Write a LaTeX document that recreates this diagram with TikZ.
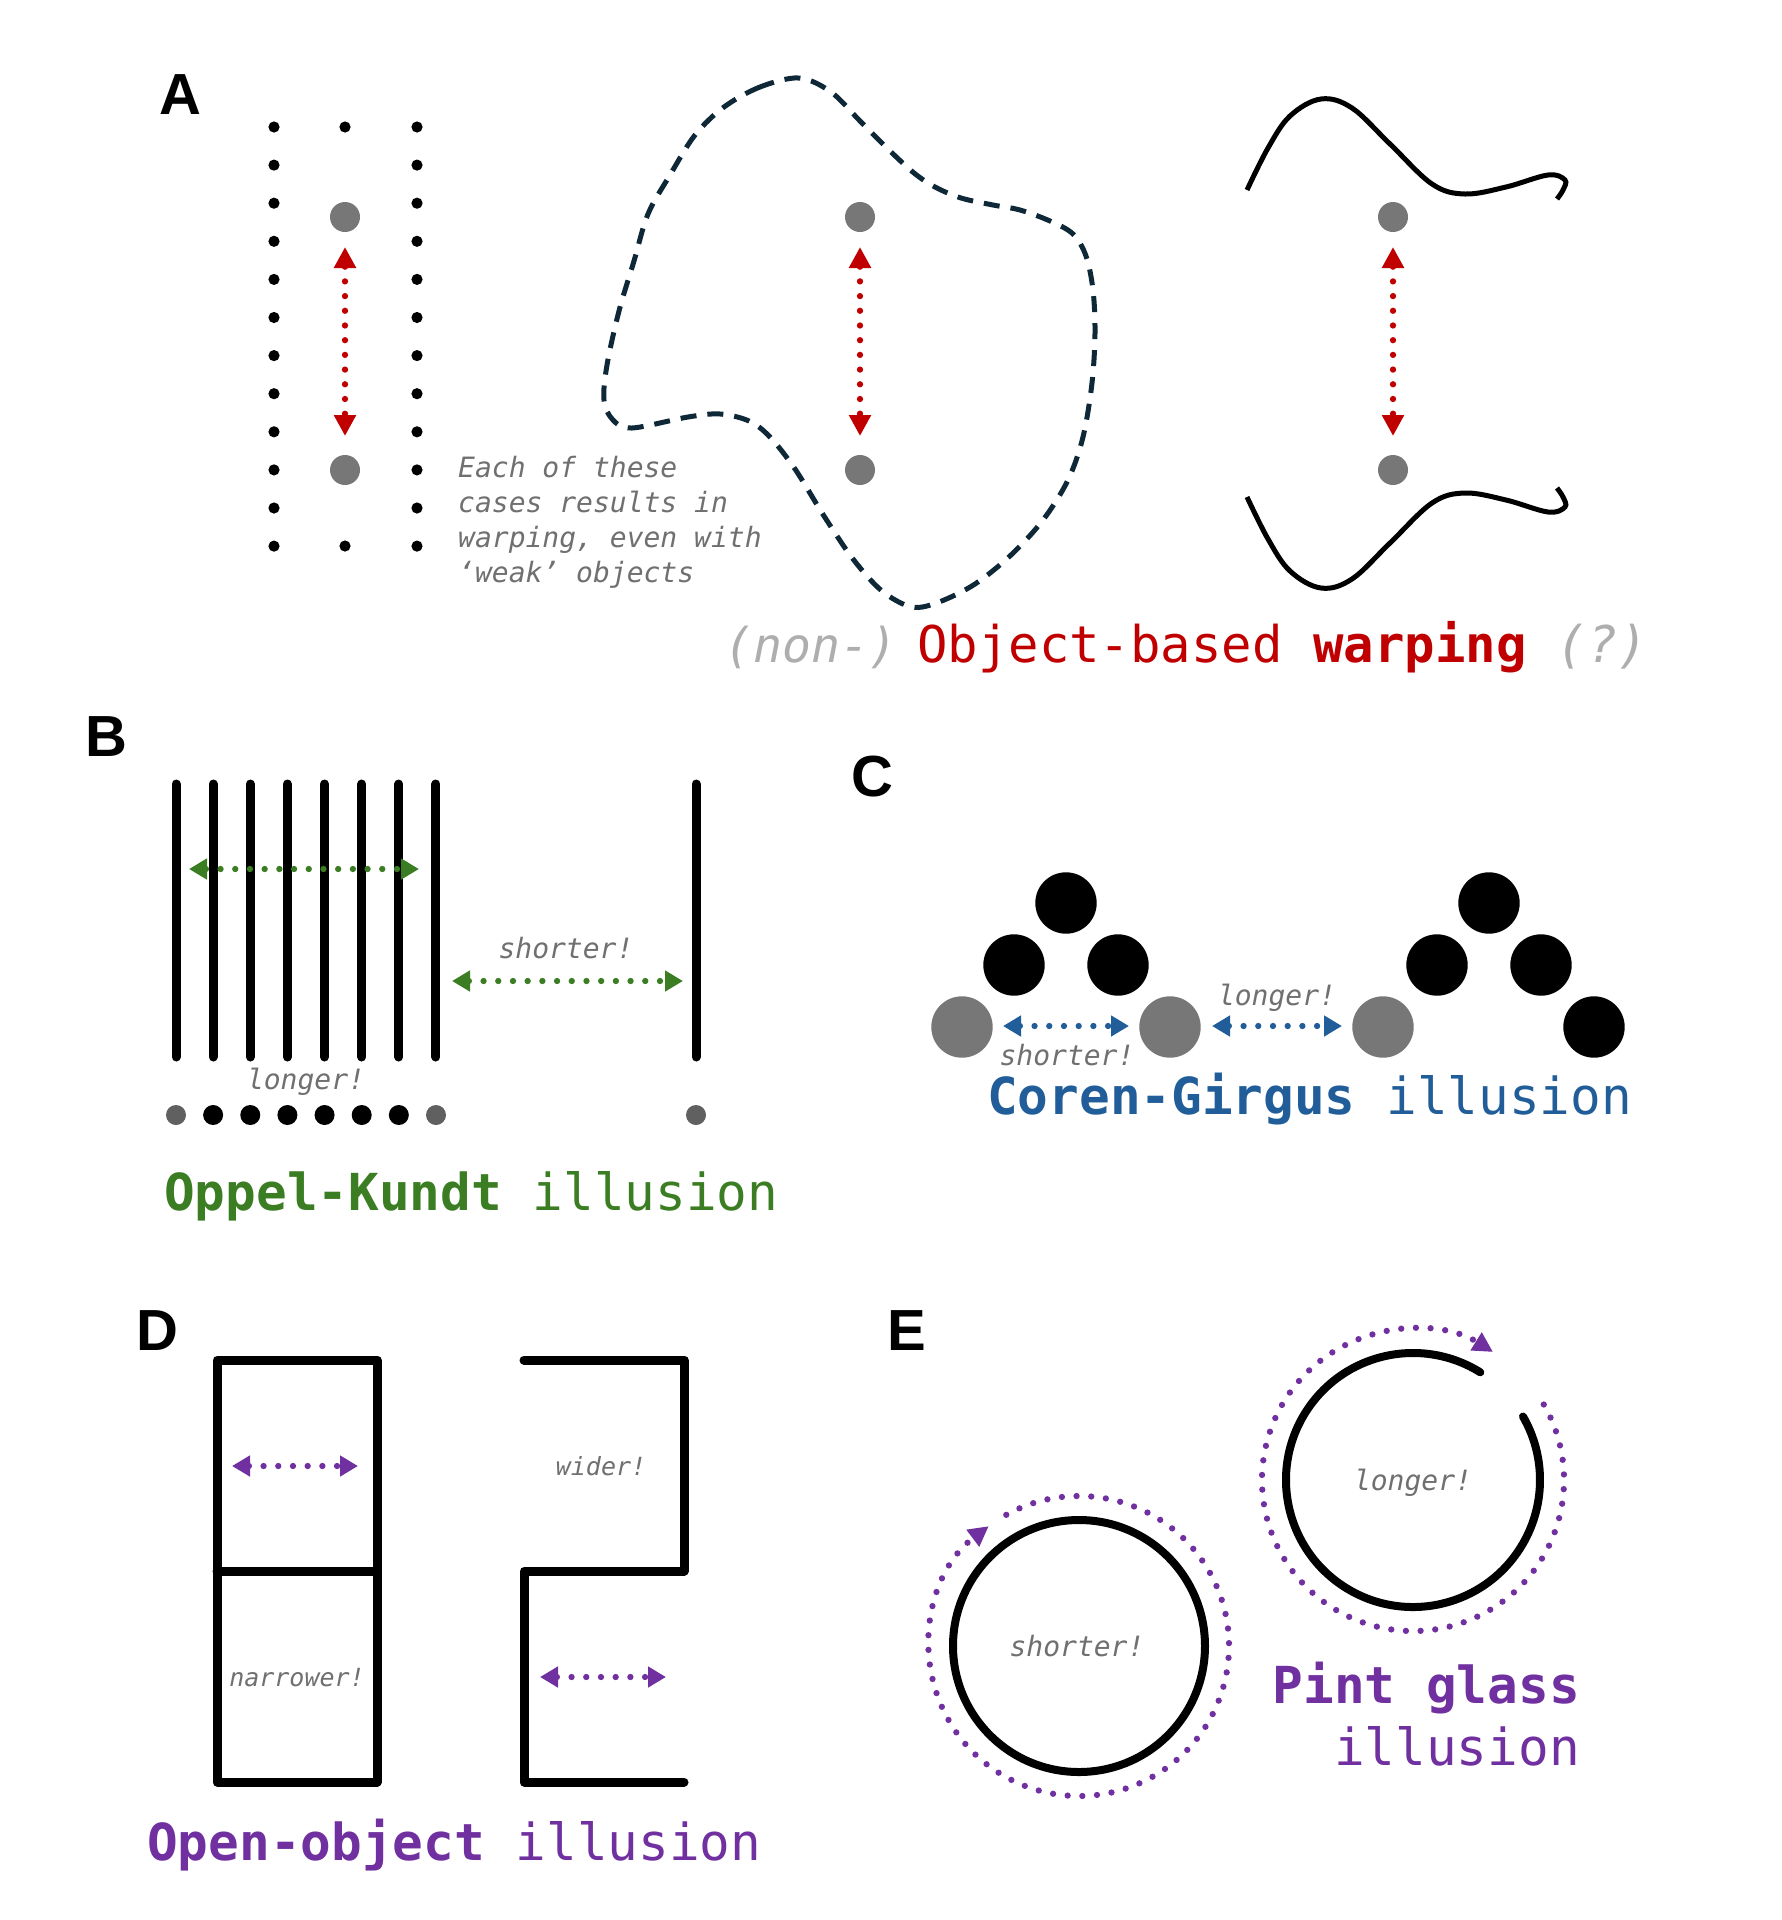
\documentclass[tikz,border=0pt]{standalone}
\usepackage{fontspec}
\setmainfont{Liberation Sans}
\newfontfamily\monof{DejaVu Sans Mono}
\usetikzlibrary{arrows.meta}
\definecolor{myred}{HTML}{C00000}
\definecolor{mygreen}{HTML}{3B7D23}
\definecolor{myblue}{HTML}{215E99}
\definecolor{mypurple}{HTML}{7030A0}
\definecolor{navyline}{HTML}{0E2838}
\definecolor{dotgray}{HTML}{777777}
\definecolor{dotgrayB}{HTML}{606060}
\definecolor{notegray}{HTML}{707070}
\definecolor{paregray}{HTML}{AEAEAE}
\begin{document}
\begin{tikzpicture}[x=1pt,y=-1pt,
  panel/.style={font=\fontsize{58}{60}\selectfont\bfseries, anchor=base west, inner sep=0pt},
  note/.style={font=\fontsize{28}{35}\selectfont\monof\itshape, text=notegray, anchor=base, inner sep=0pt},
  smallnote/.style={note, font=\fontsize{25}{30}\selectfont\monof\itshape},
  ttl/.style={font=\fontsize{51}{62}\selectfont\monof, anchor=base west, inner sep=0pt},
  dotline/.style={line width=6.3pt, line cap=round, dash pattern=on 0pt off 14.7pt},
  dblarrow/.style={dotline, {Triangle[length=18pt,width=20pt]}-{Triangle[length=18pt,width=20pt]}},
  redarrow/.style={dotline, {Triangle[length=21pt,width=21pt]}-{Triangle[length=21pt,width=21pt]}},
  endarrow/.style={dotline, -{Triangle[length=20pt,width=20pt]}},
  bar/.style={line width=9pt, line cap=round},
  frame/.style={line width=9pt, line cap=round, line join=round},
  curve/.style={line width=5pt, line cap=butt},
]
\useasboundingbox (0,0) rectangle (1782,1920);
\fill[white] (0,0) rectangle (1782,1920);

% ---------------- Panel A ----------------
\node[panel] (labA) at (159,114) {A};
\foreach \k in {0,...,11} {
  \fill (274,127+38.1*\k) circle[radius=5.6pt];
  \fill (417,127+38.1*\k) circle[radius=5.6pt];
}
\fill (345,127) circle[radius=5.6pt];
\fill (345,546) circle[radius=5.6pt];
\foreach \x in {345,860,1393} {
  \fill[dotgray] (\x,217) circle[radius=15pt];
  \fill[dotgray] (\x,470) circle[radius=15pt];
}
\coordinate (a1t) at (345,247); \coordinate (a1b) at (345,436);
\coordinate (a2t) at (860,247); \coordinate (a2b) at (860,436);
\coordinate (a3t) at (1393,247); \coordinate (a3b) at (1393,436);
\draw[redarrow, myred] (a1t) -- (a1b);
\draw[redarrow, myred] (a2t) -- (a2b);
\draw[redarrow, myred] (a3t) -- (a3b);

\node[note, anchor=base west, align=left] (noteA) at (458,582)
  {Each of these\\cases results in\\warping, even with\\‘weak’ objects};

% dashed blob
\draw[navyline, line width=5pt, dash pattern=on 16pt off 11pt]
  plot[smooth cycle, tension=0.55] coordinates {
  (799,78) (760,87) (724,107) (695,135) (670,175) (648,214) (634,261) (619,311)
  (607,365) (604,400) (613,420) (632,428) (688,417) (720,414) (749,421) (770,437)
  (795,469) (824,516) (853,559) (882,591) (912,607) (939,602) (975,584) (1011,555)
  (1043,520) (1068,480) (1083,437) (1092,383) (1095,333) (1093,290) (1086,256)
  (1073,234) (1050,221) (1020,210) (993,205) (961,198) (935,187) (914,173)
  (889,150) (860,121) (831,92) };

% wavy lines
\draw[curve] plot[smooth, tension=0.6] coordinates {
  (1247,190) (1268,148) (1290,116) (1321,99) (1352,108) (1390,144) (1432,184)
  (1465,194) (1506,187) (1548,175) (1565,180) (1563,190) (1557,199)};
\draw[curve] plot[smooth, tension=0.6] coordinates {
  (1247,497) (1268,539) (1290,571) (1321,588) (1352,579) (1390,543) (1432,503)
  (1465,493) (1506,500) (1548,512) (1565,507) (1563,497) (1557,488)};

\node[ttl, anchor=base east, text=paregray, font=\fontsize{48}{60}\selectfont\monof\itshape] (nonA) at (898,662) {(non-)};
\node[ttl, text=myred, font=\fontsize{50.6}{60}\selectfont\monof] (titleA) at (917,662)
  {Object-based {\bfseries warping} {\itshape\color{paregray}(?)}};

% ---------------- Panel B ----------------
\node[panel] (labB) at (85,756) {B};
\foreach \i in {0,...,7} {
  \draw[bar] (176+37.14*\i,784) -- (176+37.14*\i,1057);
}
\draw[bar] (696,784) -- (696,1057);
\fill[dotgrayB] (176,1115) circle[radius=10pt];
\fill[dotgrayB] (436,1115) circle[radius=10pt];
\fill[dotgrayB] (696,1115) circle[radius=10pt];
\foreach \i in {1,...,6} { \fill (176+37.14*\i,1115) circle[radius=10pt]; }
\coordinate (b1l) at (189,869); \coordinate (b1r) at (419,869);
\coordinate (b2l) at (452,981); \coordinate (b2r) at (683,981);
\draw[dblarrow, mygreen] (b1l) -- (b1r);
\draw[dblarrow, mygreen] (b2l) -- (b2r);
\node[note] (shortB) at (566,958) {shorter!};
\node[note] (longB) at (306,1089) {longer!};
\node[ttl, text=mygreen] (titleB) at (164,1210) {{\bfseries Oppel-Kundt} illusion};

% ---------------- Panel C ----------------
\node[panel] (labC) at (851,796) {C};
\foreach \p in {(1066,903),(1014,965),(1118,965),(1489,903),(1437,965),(1541,965),(1594,1027)} {
  \fill \p circle[radius=30.7pt];
}
\foreach \p in {(962,1027),(1170,1027),(1383,1027)} {
  \fill[dotgray] \p circle[radius=30.7pt];
}
\coordinate (c1l) at (1003,1026); \coordinate (c1r) at (1129,1026);
\coordinate (c2l) at (1212,1026); \coordinate (c2r) at (1342,1026);
\draw[dblarrow, myblue] (c1l) -- (c1r);
\draw[dblarrow, myblue] (c2l) -- (c2r);
\node[note] (longC) at (1277,1005) {longer!};
\node[note] (shortC) at (1067,1065) {shorter!};
\node[ttl, text=myblue] (titleC) at (987,1114) {{\bfseries Coren-Girgus} illusion};

% ---------------- Panel D ----------------
\node[panel] (labD) at (136,1350) {D};
\draw[frame] (217,1360) rectangle (377,1782);
\draw[frame] (217,1571) -- (377,1571);
\draw[frame] (524,1360) -- (684,1360) -- (684,1571) -- (524,1571) -- (524,1782) -- (684,1782);
\coordinate (d1l) at (232,1466); \coordinate (d1r) at (358,1466);
\coordinate (d2l) at (540,1677); \coordinate (d2r) at (666,1677);
\draw[dblarrow, mypurple] (d1l) -- (d1r);
\draw[dblarrow, mypurple] (d2l) -- (d2r);
\node[smallnote] (widerD) at (601,1475) {wider!};
\node[smallnote] (narrD) at (297,1686) {narrower!};
\node[ttl, text=mypurple] (titleD) at (147,1860) {{\bfseries Open-object} illusion};

% ---------------- Panel E ----------------
\node[panel] (labE) at (887,1350) {E};
\coordinate (EL) at (1079,1646);
\coordinate (ER) at (1413,1480);
\draw[line width=8pt] (EL) circle[radius=126pt];
\draw[line width=8pt, line cap=round] (ER) ++(58:127pt) arc[start angle=58, end angle=390, radius=127pt];
\draw[endarrow, mypurple] (EL) ++(119:150pt) arc[start angle=119, end angle=-233, radius=150pt];
\draw[endarrow, mypurple] (ER) ++(30:151pt) arc[start angle=30, end angle=-302, radius=151pt];
\node[note] (shortE) at (1077,1656) {shorter!};
\node[note] (longE) at (1413,1490) {longer!};
\node[ttl, anchor=base east, align=right, text=mypurple] (titleE) at (1580,1765)
  {{\bfseries Pint glass}\\illusion};
\end{tikzpicture}
\end{document}
